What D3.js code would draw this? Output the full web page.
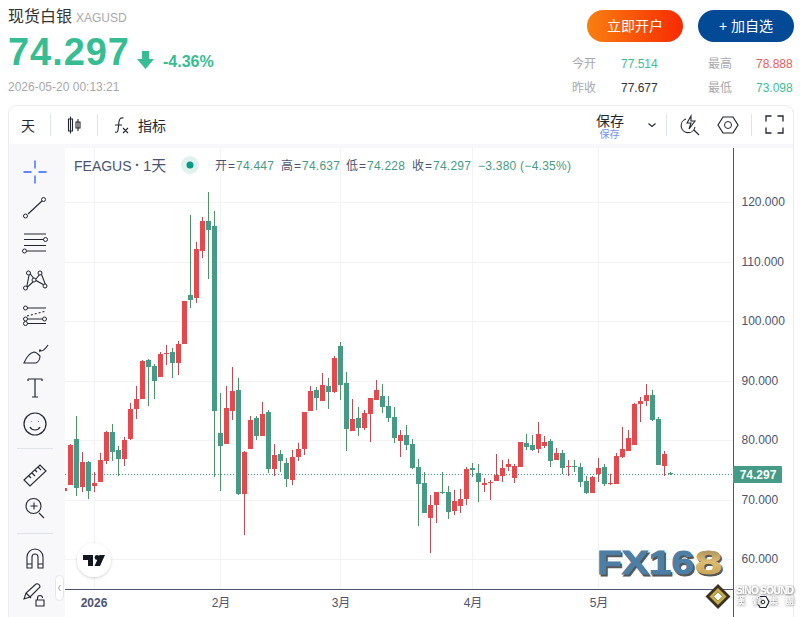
<!DOCTYPE html>
<html>
<head>
<meta charset="utf-8">
<script src="https://cdn.jsdelivr.net/npm/d3@7"></script>
<style>
  html, body { margin: 0; padding: 0; background: #fff; overflow: hidden; }
  svg { display: block; }
  text { font-family: "Liberation Sans", "Noto Sans CJK SC", sans-serif; }
</style>
</head>
<body>
<div id="chart"></div>
<script>
// daily bars, first one is cut off by the left edge of the pane
const opens = [
  71.48, 72.49, 80.22, 72.15, 76.35, 72.32, 72.99, 76.52, 81.39, 78.37,
  76.86, 80.22, 85.26, 86.94, 93.5, 92.49, 90.64, 94.5, 94.84, 92.99,
  96.18, 104.42, 103.91, 111.81, 116.86, 116.02, 81.22, 79.38, 84.92, 88.45,
  70.97, 78.54, 83.75, 80.72, 84.75, 75.17, 77.7, 76.18, 73.33, 77.19,
  78.54, 84.92, 88.45, 86.6, 89.13, 88.12, 95.85, 89.63, 81.56, 83.75,
  82.07, 84.42, 86.77, 87.45, 85.76, 83.91, 79.88, 80.89, 79.38, 75.51,
  72.82, 66.94, 69.12, 71.31, 71.31, 68.12, 68.96, 70.13, 75.34, 74.5,
  72.49, 72.82, 73.16, 74.0, 75.51, 73.66, 75.51, 79.55, 79.21, 78.54,
  79.04, 79.88, 76.69, 77.86, 75.51, 75.68, 75.51, 73.16, 71.14, 74.34,
  75.51, 72.65, 72.65, 77.19, 78.2, 79.21, 86.1, 86.6, 87.62, 83.58,
  75.68, 74.447
];
const highs = [
  71.98, 79.38, 84.08, 78.03, 76.52, 74.67, 77.86, 81.56, 82.74, 79.04,
  80.55, 86.27, 89.13, 93.5, 93.66, 92.82, 94.84, 96.02, 95.51, 96.69,
  103.41, 117.86, 113.33, 117.53, 121.73, 118.54, 87.95, 89.13, 92.32, 90.47,
  78.2, 84.08, 84.08, 86.44, 85.09, 79.38, 78.37, 77.03, 78.37, 79.55,
  84.75, 89.13, 88.96, 91.31, 90.47, 94.17, 96.52, 91.48, 86.94, 85.6,
  85.09, 87.11, 90.13, 89.46, 87.45, 85.6, 81.73, 82.57, 80.22, 76.86,
  74.67, 70.8, 71.31, 74.67, 72.32, 71.64, 71.81, 75.51, 76.18, 76.02,
  73.66, 73.33, 77.7, 76.69, 76.86, 76.02, 79.71, 81.06, 80.89, 83.07,
  80.72, 80.22, 78.71, 78.37, 76.69, 76.69, 76.18, 74.0, 74.0, 77.03,
  76.02, 74.34, 77.86, 82.24, 81.73, 86.27, 87.28, 89.46, 88.45, 83.91,
  78.2, 74.637
];
const lows = [
  71.48, 72.49, 70.64, 71.31, 70.13, 71.31, 72.99, 76.02, 76.52, 74.0,
  75.68, 80.05, 83.58, 86.94, 85.76, 86.94, 90.64, 92.65, 90.47, 90.97,
  96.18, 102.24, 103.07, 110.64, 107.11, 73.83, 71.48, 79.38, 83.41, 70.8,
  64.08, 78.54, 80.05, 80.72, 74.5, 74.0, 74.67, 72.15, 72.49, 76.52,
  77.53, 84.92, 85.09, 86.6, 85.26, 87.95, 86.77, 78.2, 81.56, 80.72,
  81.73, 79.71, 86.77, 84.59, 83.07, 79.55, 77.19, 78.37, 75.17, 65.6,
  67.78, 61.06, 66.1, 70.97, 66.77, 67.44, 67.78, 69.12, 73.83, 69.63,
  71.31, 69.97, 73.16, 72.99, 74.84, 72.82, 75.51, 78.37, 78.2, 77.86,
  78.71, 75.51, 76.69, 74.34, 74.0, 74.67, 72.15, 70.97, 71.14, 72.99,
  72.32, 72.49, 72.65, 77.03, 78.2, 79.21, 83.07, 85.76, 83.24, 75.85,
  74.0, 74.228
];
const closes = [
  71.98, 79.21, 71.98, 76.35, 71.48, 72.82, 76.69, 81.39, 78.03, 76.86,
  80.05, 85.26, 86.94, 93.33, 92.32, 89.97, 94.5, 94.67, 92.99, 96.18,
  103.41, 103.58, 112.15, 116.86, 115.34, 84.92, 79.04, 85.43, 88.29, 70.97,
  78.03, 83.41, 80.72, 84.42, 75.17, 77.53, 76.52, 73.49, 77.19, 78.54,
  84.75, 88.29, 87.11, 89.29, 88.12, 93.83, 89.29, 81.9, 83.58, 82.07,
  84.59, 87.11, 88.45, 85.6, 83.75, 80.39, 80.89, 79.21, 75.34, 72.65,
  67.78, 69.12, 71.31, 71.14, 67.95, 69.8, 70.13, 75.17, 75.01, 72.99,
  72.82, 72.99, 74.17, 75.34, 76.02, 75.68, 79.71, 78.87, 78.37, 81.06,
  79.71, 76.52, 77.86, 75.34, 75.68, 75.51, 72.99, 71.14, 73.83, 75.34,
  72.65, 72.82, 77.36, 78.54, 80.39, 86.1, 86.6, 87.62, 83.41, 75.85,
  77.68, 74.297
];
const priceTicks = [60, 70, 80, 90, 100, 110, 120];
const monthBars = [5, 26, 46, 68, 89];
const monthLabels = ["2026", "2月", "3月", "4月", "5月"];
const lastPrice = 74.297;

const bars = opens.map((o, i) => ({ i: i, o: o, h: highs[i], l: lows[i], c: closes[i] }));

const upBody = "#e5484d", upWick = "#c24a52";
const downBody = "#459b85", downWick = "#4c9465";
const inkAxis = "#4c5470", ink = "#23262f", grey = "#a8a8ad", teal = "#36bd93";

const svg = d3.select("#chart").append("svg").attr("width", 804).attr("height", 617);
const defs = svg.append("defs");

const paneLeft = 65, paneRight = 733, paneTop = 148, paneBottom = 589;

const x = d3.scaleLinear().domain([0, bars.length - 1]).range([64.5, 670.5]);
const y = d3.scaleLinear().domain([60, 120]).range([559.3, 202.3]);
const px = (v) => Math.round(y(v));

function label(sel, str, tx, ty, size, color, opts) {
  opts = opts || {};
  return sel.append("text").attr("x", tx).attr("y", ty)
    .attr("font-size", size).attr("fill", color)
    .attr("font-weight", opts.weight || "normal")
    .attr("text-anchor", opts.anchor || "start")
    .text(str);
}

// ---- page header ----
label(svg, "现货白银", 8, 22, 16, "#333");
label(svg, "XAGUSD", 76, 22, 12, grey);
label(svg, "74.297", 8, 65, 38, teal, { weight: "bold" }).attr("textLength", 121);
svg.append("path").attr("d", "M142 51h7v8h5l-8.5 10l-8.5-10h5z").attr("fill", teal);
label(svg, "-4.36%", 163, 67, 16, teal, { weight: "bold" });
label(svg, "2026-05-20 00:13:21", 8, 91, 12, grey);

const grad = defs.append("linearGradient").attr("id", "openBtn");
grad.append("stop").attr("offset", "0").attr("stop-color", "#f97f10");
grad.append("stop").attr("offset", "1").attr("stop-color", "#f82a02");
svg.append("rect").attr("x", 587).attr("y", 10).attr("width", 96).attr("height", 32).attr("rx", 16).attr("fill", "url(#openBtn)");
svg.append("rect").attr("x", 698).attr("y", 10).attr("width", 96).attr("height", 32).attr("rx", 16).attr("fill", "#034a96");
label(svg, "立即开户", 635, 31, 14, "#fff", { anchor: "middle" });
label(svg, "+ 加自选", 746, 31, 14, "#fff", { anchor: "middle" });

label(svg, "今开", 572, 68, 12, grey);
label(svg, "77.514", 621, 68, 12, "#3dbd97");
label(svg, "最高", 708, 68, 12, grey);
label(svg, "78.888", 756, 68, 12, "#ee5a5a");
label(svg, "昨收", 572, 92, 12, grey);
label(svg, "77.677", 621, 92, 12, "#333");
label(svg, "最低", 708, 92, 12, grey);
label(svg, "73.098", 756, 92, 12, "#3dbd97");

// ---- widget frame and toolbars ----
svg.append("rect").attr("x", 8.5).attr("y", 105.5).attr("width", 785).attr("height", 530).attr("rx", 8)
  .attr("fill", "#fff").attr("stroke", "#ececf0");
svg.append("rect").attr("x", 9).attr("y", 144).attr("width", 784).attr("height", 4).attr("fill", "#f8f8fb");
svg.append("rect").attr("x", 9).attr("y", 148).attr("width", 56).attr("height", 469).attr("fill", "#f8f8fb");

const sep = (x1, y1, x2, y2) => svg.append("line").attr("x1", x1).attr("y1", y1).attr("x2", x2).attr("y2", y2)
  .attr("stroke", "#e0e3ea");
[50.5, 97.5, 666.5, 751.5].forEach((sx) => sep(sx, 114, sx, 136));
[448.5, 533.5].forEach((sy) => sep(17, sy, 53, sy));

label(svg, "天", 21, 131, 14, ink);
label(svg, "指标", 138, 131, 14, ink);
label(svg, "保存", 596, 126, 14, ink);
label(svg, "保存", 599.5, 138, 10, "#7a8cf5");

function icon(cx, cy, d, color) {
  return svg.append("path").attr("transform", `translate(${cx},${cy})`).attr("d", d)
    .attr("fill", "none").attr("stroke", color || ink).attr("stroke-width", 1.1);
}
// top bar icons
icon(74, 125, "M-3.500-8.500v17M-5.500-6h4v12h-4zM4-6v12M2-3h4v6h-4z");
icon(121, 125, "M-6 7c3 1 3-1 3.500-6c.5-6 1-9 5-8M-6 0h7M2 3l5 5M7 3l-5 5");
icon(652, 125, "M-3.500-1.500l3.500 3l3.500-3");
icon(689, 125, "M-3-6a7 7 0 1 0 9 8M5 5l5 5M2-9l-4 7h4l-2 6l6-8h-4z");
icon(728, 125, "M-10 0l5-8h10l5 8l-5 8h-10z").attr("stroke-width", 1.2);
svg.append("circle").attr("cx", 728).attr("cy", 125).attr("r", 3.5).attr("fill", "none").attr("stroke", ink);
icon(774.5, 124.5, "M-8.500-3v-5.500h5.500M3-8.500h5.500v5.500M8.500 3v5.500h-5.500M-3 8.500h-5.500v-5.500").attr("stroke-width", 1.3);

// left drawing tools
icon(35, 172, "M-11.500 0h8M3.500 0h8M0-11.500v8M0 3.500v8", "#2962ff").attr("stroke-width", 1.3);
icon(35, 208, "M-7 6l14-13");
[[-9.500, 8], [8.500, -8.500]].forEach((p) => svg.append("circle").attr("cx", 35 + p[0]).attr("cy", 208 + p[1]).attr("r", 2).attr("fill", "#f8f8fb").attr("stroke", ink));
icon(35, 243, "M-11-9h22M-11-3.500h20M-11 2.500h22M-8 8h19");
[[10.500, -3.500], [-10.500, 8]].forEach((p) => svg.append("circle").attr("cx", 35 + p[0]).attr("cy", 243 + p[1]).attr("r", 2).attr("fill", "#f8f8fb").attr("stroke", ink));
icon(35, 280, "M-8.500 8l3-15l5.500 7l6-7l5 13l-11-6z");
[[-8.500, 8], [-5.500, -7], [0, 0], [6, -7], [11, 6]].forEach((p) => svg.append("circle").attr("cx", 34 + p[0]).attr("cy", 280 + p[1]).attr("r", 2).attr("fill", "#f8f8fb").attr("stroke", ink));
icon(35, 316, "M-8-8h19M-8 7.500h19M-8 3h16");
icon(35, 316, "M-8 0l19-5").attr("stroke-dasharray", "2 2");
[[-9.500, -8], [-9.500, 3], [-9.500, 7.500], [9.500, 3]].forEach((p) => svg.append("circle").attr("cx", 35 + p[0]).attr("cy", 316 + p[1]).attr("r", 2).attr("fill", "#f8f8fb").attr("stroke", ink));
icon(35, 353, "M-11 10h12c3-1 4-5 4-7c-2-2-4-4-6-4c-4 1-8 6-10 11zM5-1c-1-2 0-3 1-1c3 0 5-3 7-6");
icon(35, 388, "M-7-9h14M0-9v18M-7-9v2M7-9v2M-3 9h6").attr("stroke-width", 1.2);
icon(35, 424, "M-11 0a11 11 0 1 0 22 0a11 11 0 1 0-22 0M-5 3c2 4 8 4 10 0M-3.500-2.500v.5M3.500-2.500v.5").attr("stroke-width", 1.2);
icon(35, 474, "M-11 6l16-15l6 6l-16 15zM-6 2l2 2M-3-1l3 3M0-4l2 2M3-7l3 3");
icon(34, 507, "M-8-1a7.500 7.500 0 1 0 15 0a7.500 7.500 0 1 0-15 0M-3.500-1h7M0-4.500v7M5 6l5 5");
icon(35, 558, "M-8 10v-11a8 8 0 0 1 16 0v11h-5v-11a3 3 0 0 0-6 0v11zM-8 6h5M3 6h5");
icon(33, 592, "M-9 7l2-6l10-9c2-1 4 1 4 3l-10 10zM-7 1l5 5");
icon(40, 600, "M-4 0h8v6h-8zM-2.500 0v-2a2.500 2.500 0 0 1 5 0");
svg.append("rect").attr("x", 55.5).attr("y", 575.5).attr("width", 8).attr("height", 25).attr("rx", 4)
  .attr("fill", "#fff").attr("stroke", "#e4e6ec");
icon(59.5, 588, "M1-3l-2 3l2 3", "#b0b3bb");

// ---- price pane ----
defs.append("clipPath").attr("id", "pane").append("rect")
  .attr("x", paneLeft).attr("y", paneTop).attr("width", paneRight - paneLeft).attr("height", paneBottom - paneTop);
const plot = svg.append("g").attr("clip-path", "url(#pane)");

// grid first
plot.selectAll(".hgrid").data(priceTicks).enter().append("line").attr("class", "hgrid")
  .attr("x1", paneLeft).attr("x2", paneRight)
  .attr("y1", (d) => px(d) + 0.5).attr("y2", (d) => px(d) + 0.5)
  .attr("stroke", "#f2f3f5");
plot.selectAll(".vgrid").data(monthBars).enter().append("line").attr("class", "vgrid")
  .attr("y1", paneTop).attr("y2", paneBottom)
  .attr("x1", (d) => x(d)).attr("x2", (d) => x(d))
  .attr("stroke", "#f2f3f5");

// last price line goes under the bars
plot.append("line").attr("x1", paneLeft).attr("x2", paneRight)
  .attr("y1", px(lastPrice) + 0.5).attr("y2", px(lastPrice) + 0.5)
  .attr("stroke", "#3f9a85").attr("stroke-dasharray", "1 2");

plot.selectAll(".wick").data(bars).enter().append("rect").attr("class", "wick")
  .attr("x", (d) => x(d.i) - 0.5).attr("width", 1)
  .attr("y", (d) => px(d.h))
  .attr("height", (d) => Math.max(px(d.l) - px(d.h), 1))
  .attr("fill", (d) => (d.c >= d.o ? upWick : downWick));

plot.selectAll(".body").data(bars).enter().append("rect").attr("class", "body")
  .attr("x", (d) => x(d.i) - 2.5).attr("width", 5)
  .attr("y", (d) => px(Math.max(d.o, d.c)))
  .attr("height", (d) => Math.max(px(Math.min(d.o, d.c)) - px(Math.max(d.o, d.c)), 1))
  .attr("fill", (d) => (d.c >= d.o ? upBody : downBody));

// ---- axes ----
const yAxis = svg.append("g").attr("transform", `translate(${paneRight + 0.5},0)`)
  .call(d3.axisRight(y).tickValues(priceTicks).tickFormat(d3.format(".3f")).tickSize(0).tickPadding(8));
yAxis.select(".domain").remove();
yAxis.selectAll("text").attr("font-size", 12).attr("fill", inkAxis).attr("font-family", "Liberation Sans")
  .attr("dy", "0.28em");

const xAxis = svg.append("g").attr("transform", `translate(0,${paneBottom + 0.5})`)
  .call(d3.axisBottom(x).tickValues(monthBars).tickFormat((d, i) => monthLabels[i]).tickSize(0).tickPadding(9));
xAxis.select(".domain").remove();
xAxis.selectAll("text").attr("font-size", 12).attr("fill", inkAxis)
  .attr("font-weight", (d, i) => (i === 0 ? "bold" : "normal"))
  .attr("dx", (d, i) => (i === 0 ? -1 : 0))
  .attr("font-family", "Liberation Sans, Noto Sans CJK SC");

svg.append("line").attr("x1", paneLeft).attr("x2", paneRight + 1).attr("y1", paneBottom + 0.5).attr("y2", paneBottom + 0.5).attr("stroke", inkAxis);
svg.append("line").attr("x1", paneRight + 0.5).attr("x2", paneRight + 0.5).attr("y1", paneTop).attr("y2", 617).attr("stroke", inkAxis);

svg.append("rect").attr("x", paneRight).attr("y", px(lastPrice) - 8).attr("width", 49).attr("height", 17).attr("rx", 1).attr("fill", downBody);
label(svg, d3.format(".3f")(lastPrice), paneRight + 25, px(lastPrice) + 5, 12, "#fff", { weight: "bold", anchor: "middle" });

// ---- legend row ----
const legend = svg.append("g");
label(legend, "FEAGUS", 74, 171, 14, "#4c5470");
label(legend, "·", 135, 170, 14, "#4c5470", { weight: "bold" });
label(legend, "1天", 143, 171, 15, "#4c5470");
svg.append("circle").attr("cx", 190).attr("cy", 165).attr("r", 9).attr("fill", "#dff2ee");
svg.append("circle").attr("cx", 190).attr("cy", 165).attr("r", 3.5).attr("fill", "#089981");

const ohlcNames = ["开=", "高=", "低=", "收="];
const ohlcValues = ["74.447", "74.637", "74.228", "74.297"];
const ohlcX = [215, 281, 346, 412];
ohlcNames.forEach((n, i) => {
  label(legend, n, ohlcX[i], 170, 12, "#4c5470").attr("textLength", 20);
  label(legend, ohlcValues[i], ohlcX[i] + 21, 170, 12, "#459b85").attr("letter-spacing", "0.25");
});
label(legend, "−3.380 (−4.35%)", 478, 170, 12, "#459b85").attr("letter-spacing", "0.25");

// ---- TradingView badge ----
defs.append("filter").attr("id", "soft").attr("x", "-30%").attr("y", "-30%").attr("width", "160%").attr("height", "160%")
  .append("feDropShadow").attr("dx", 0).attr("dy", 1).attr("stdDeviation", 1.5).attr("flood-color", "#000").attr("flood-opacity", 0.2);
svg.append("circle").attr("cx", 94).attr("cy", 560).attr("r", 17).attr("fill", "#fff").attr("filter", "url(#soft)");
svg.append("path").attr("d", "M83 555h10v11h-5v-6h-5zM105 555l-5 11h-5.500l5-11z").attr("fill", "#131722");
svg.append("circle").attr("cx", 97).attr("cy", 557.500).attr("r", 2.4).attr("fill", "#131722");

// ---- watermark logos ----
const gold = defs.append("linearGradient").attr("id", "gold").attr("x1", 0).attr("y1", 0).attr("x2", 0).attr("y2", 1);
gold.append("stop").attr("offset", "0").attr("stop-color", "#8f7a4a");
gold.append("stop").attr("offset", "0.5").attr("stop-color", "#dcbd74");
gold.append("stop").attr("offset", "1").attr("stop-color", "#c09a45");
function brand(str, tx, w, fill) {
  [["#555", 1.5], [fill, 0]].forEach((s) => {
    svg.append("text").attr("x", tx + s[1]).attr("y", 574 + s[1])
      .attr("font-size", 34).attr("font-weight", "bold").attr("fill", s[0])
      .attr("stroke", s[0]).attr("stroke-width", 1)
      .attr("textLength", w).attr("lengthAdjust", "spacingAndGlyphs").text(str);
  });
}
brand("FX16", 597, 97, "#4d7fa6");
brand("8", 695, 27, "url(#gold)");

svg.append("path").attr("d", "M718 584l12.500 12.500l-12.500 12.500l-12.500-12.500z").attr("fill", "#3b3220");
svg.append("path").attr("d", "M718 588l8.500 8.500l-8.500 8.500l-8.500-8.500z").attr("fill", "#c9a94e");
svg.append("path").attr("d", "M718 592l4.500 4.500l-4.500 4.500l-4.500-4.500z").attr("fill", "#fff").attr("stroke", "#8aa33a");
icon(763, 602, "M-6 0l3-5.500h6l3 5.500l-3 5.500h-6z").attr("stroke-width", 1.2);
svg.append("circle").attr("cx", 763).attr("cy", 602).attr("r", 1.800).attr("fill", "none").attr("stroke", ink);

defs.append("filter").attr("id", "glow").attr("x", "-10%").attr("y", "-30%").attr("width", "120%").attr("height", "160%")
  .append("feDropShadow").attr("dx", 0.5).attr("dy", 0.5).attr("stdDeviation", 1).attr("flood-color", "#333").attr("flood-opacity", 0.9);
label(svg, "SINO SOUND", 736, 594, 10, "#fff", { weight: "bold" }).attr("textLength", 58).attr("filter", "url(#glow)");
label(svg, "漢 聲 集 團", 736, 604, 9, "#fff").attr("textLength", 58).attr("filter", "url(#glow)");
</script>
</body>
</html>
